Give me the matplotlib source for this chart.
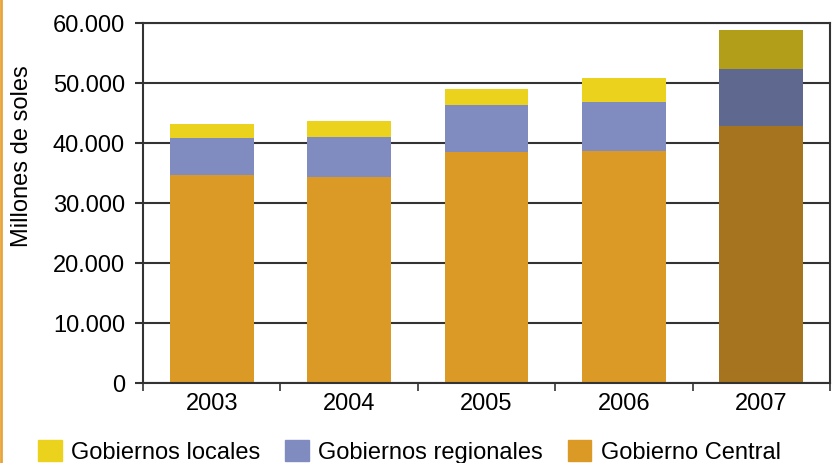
import matplotlib.pyplot as plt
import numpy as np
from matplotlib.lines import Line2D
from matplotlib.ticker import FuncFormatter

plt.rcParams['font.family'] = ['Liberation Sans', 'DejaVu Sans']

years = ['2003', '2004', '2005', '2006', '2007']
# millones de soles
central = [34700, 34300, 38500, 38700, 42800]
regionales = [6100, 6700, 7800, 8200, 9500]
locales = [2400, 2700, 2700, 3900, 6500]

col_loc = ['#ebd21d'] * 4 + ['#b29e18']
col_reg = ['#808bbf'] * 4 + ['#5f698f']
col_cen = ['#da9a25'] * 4 + ['#a6741e']

fs = 17

fig = plt.figure(figsize=(8.32, 4.63), dpi=100)
ax = fig.add_axes([143 / 832, 1 - 383 / 463, 687 / 832, 360 / 463])

x = np.arange(len(years))
w = 0.61
reg_bottom = np.array(central)
loc_bottom = reg_bottom + np.array(regionales)
ax.bar(x, central, w, color=col_cen, zorder=2)
ax.bar(x, regionales, w, bottom=reg_bottom, color=col_reg, zorder=2)
ax.bar(x, locales, w, bottom=loc_bottom, color=col_loc, zorder=2)

ax.set_xlim(-0.5, len(years) - 0.5)
ax.set_ylim(0, 60000)
ax.set_yticks(np.arange(0, 60001, 10000))
ax.yaxis.set_major_formatter(FuncFormatter(lambda v, p: f'{int(v):,}'.replace(',', '.')))
ax.yaxis.grid(True, color='#333333', lw=1.5, zorder=1)
ax.set_axisbelow(True)

ax.set_xticks(x)
ax.set_xticklabels(years)
ax.set_xticks(np.arange(-0.5, len(years)), minor=True)
ax.tick_params(axis='x', which='major', length=0, pad=7, labelsize=fs)
ax.tick_params(axis='x', which='minor', length=6, width=1.2, color='#333333')
ax.tick_params(axis='y', length=6, width=1.5, color='#333333', labelsize=fs, pad=7)
for s in ax.spines.values():
    s.set_color('#333333')
    s.set_linewidth(1.5)

fig.text(22 / 832, 1 - 156 / 463, 'Millones de soles', rotation=90,
         ha='center', va='center', fontsize=fs)

handles = [plt.Rectangle((0, 0), 1, 1, color=c) for c in ['#ebd21d', '#808bbf', '#da9a25']]
fig.legend(handles, ['Gobiernos locales', 'Gobiernos regionales', 'Gobierno Central'],
           loc='center left', bbox_to_anchor=(38 / 832, 1 - 452 / 463), ncol=3,
           frameon=False, fontsize=fs, handlelength=1.0, handleheight=1.0,
           columnspacing=1.05, handletextpad=0.4, borderpad=0, borderaxespad=0)

fig.add_artist(Line2D([0.0015, 0.0015], [0, 1], transform=fig.transFigure,
                      color='#e8a33a', lw=2))

fig.savefig('out.png', dpi=100)
